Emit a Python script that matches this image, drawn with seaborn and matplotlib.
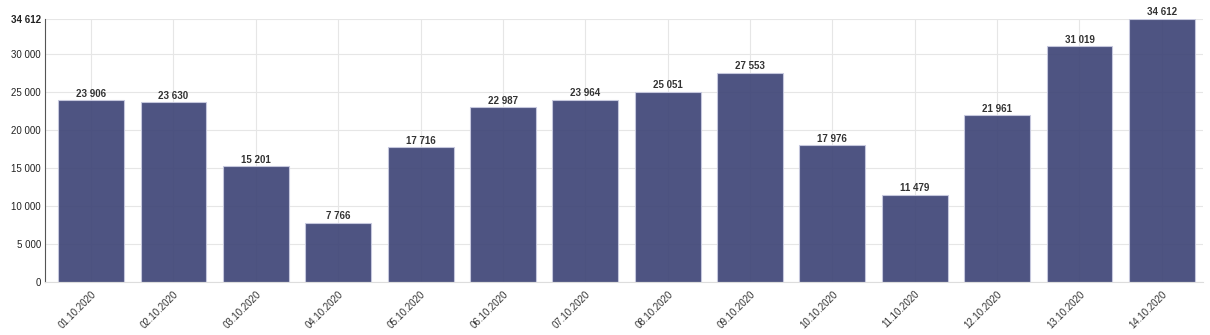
import matplotlib
matplotlib.use("Agg")
import matplotlib.pyplot as plt
import seaborn as sns
import pandas as pd

dates = ["01.10.2020", "02.10.2020", "03.10.2020", "04.10.2020", "05.10.2020",
         "06.10.2020", "07.10.2020", "08.10.2020", "09.10.2020", "10.10.2020",
         "11.10.2020", "12.10.2020", "13.10.2020", "14.10.2020"]
values = [23906, 23630, 15201, 7766, 17716, 22987, 23964, 25051, 27553,
          17976, 11479, 21961, 31019, 34612]
yticks = [0, 5000, 10000, 15000, 20000, 25000, 30000]

def fmt(v):
    return f"{v:,}".replace(",", " ")

sns.set_style("white")
plt.rcParams['font.family'] = ['Liberation Sans', 'DejaVu Sans']

df = pd.DataFrame({"date": dates, "value": values})

fig = plt.figure(figsize=(12.1, 3.35), dpi=100)
ax = fig.add_axes([45/1210, 53/335, 1158/1210, 263/335])

sns.barplot(data=df, x="date", y="value", ax=ax, color="#3f4577", alpha=0.92,
            width=0.8, edgecolor="#c8cae0", linewidth=0.8, saturation=1)

ymax = max(values)
ax.set_ylim(0, ymax)
ax.set_xlim(-0.56, len(dates) - 0.5)
ax.set_yticks(yticks + [ymax])
ax.set_yticklabels([fmt(v) for v in yticks] + [fmt(ymax)], fontsize=7, color="#222")
ax.get_yticklabels()[-1].set_fontweight("bold")
ax.set_xticks(range(len(dates)))
ax.set_xticklabels(dates, rotation=45, ha="right", rotation_mode="anchor",
                   fontsize=7, color="#333")
ax.tick_params(axis="both", length=0, pad=3)
ax.tick_params(axis="x", pad=5)
ax.set_xlabel("")
ax.set_ylabel("")

ax.grid(True, color="#e6e6e6", linewidth=0.8)
ax.set_axisbelow(True)
for s in ["top", "right"]:
    ax.spines[s].set_visible(False)
ax.spines["left"].set_color("#555")
ax.spines["left"].set_linewidth(0.8)
ax.spines["bottom"].set_color("#ddd")
ax.spines["bottom"].set_linewidth(0.8)

for i, v in enumerate(values):
    ax.text(i, v + 200, fmt(v), ha="center", va="bottom", fontsize=7,
            fontweight="bold", color="#333", clip_on=False)

fig.savefig("out.png", dpi=100)
